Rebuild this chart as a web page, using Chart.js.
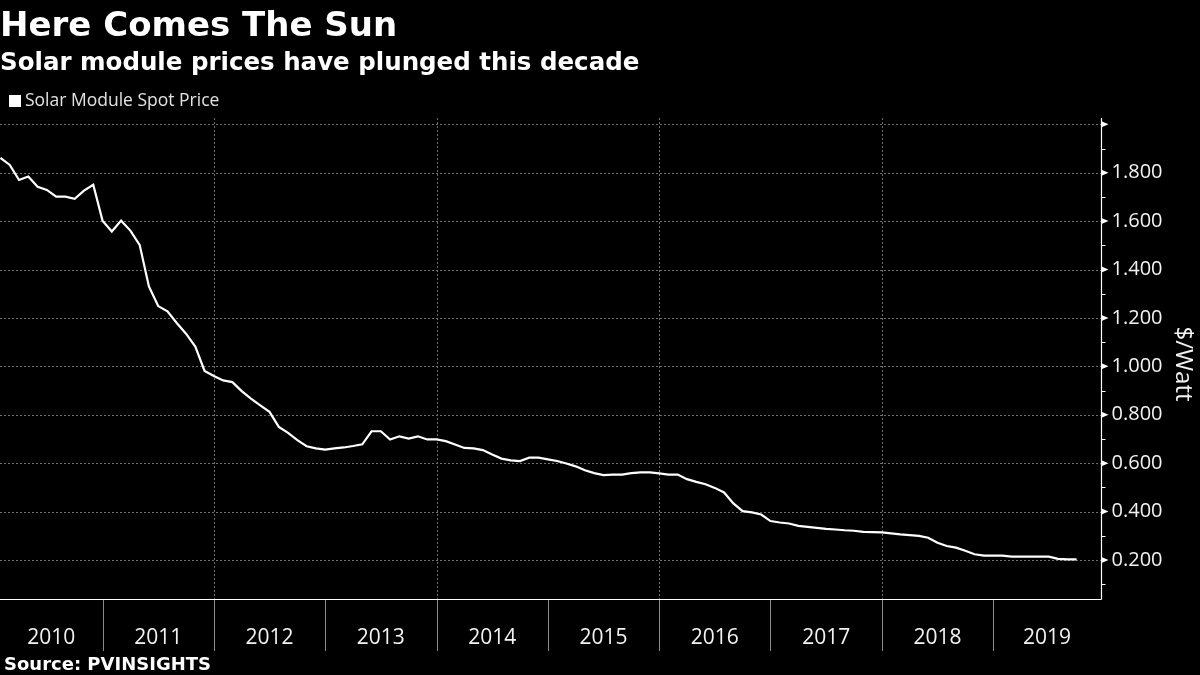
<!DOCTYPE html>
<html><head><meta charset="utf-8">
<script src="https://cdn.jsdelivr.net/npm/chart.js@4.4.1/dist/chart.umd.min.js"></script>
<style>html,body{margin:0;padding:0;background:#000;overflow:hidden}canvas{display:block}</style>
</head><body><canvas id="c" width="1200" height="675"></canvas>
<script>
const titleText = "Here Comes The Sun";
const subtitleText = "Solar module prices have plunged this decade";
const seriesName = "Solar Module Spot Price";
const sourceText = "Source: PVINSIGHTS";
const yAxisTitle = "$/Watt";

const years = ["2010","2011","2012","2013","2014","2015","2016","2017","2018","2019"];
const xGridYears = [2012, 2014, 2016, 2018];
const yTickValues = [0.2, 0.4, 0.6, 0.8, 1.0, 1.2, 1.4, 1.6, 1.8];
const yTickLabels = ["0.200","0.400","0.600","0.800","1.000","1.200","1.400","1.600","1.800"];
const yGridValues = [0.2, 0.4, 0.6, 0.8, 1.0, 1.2, 1.4, 1.6, 1.8, 2.0];
const yMinorTicks = [0.1, 0.3, 0.5, 0.7, 0.9, 1.1, 1.3, 1.5, 1.7, 1.9];

const firstYear = 2010, firstMonth = 1;
// Monthly spot price, $/Watt, Jan 2010 .. Sep 2019
const prices = [
  1.861,1.832,1.770,1.784,1.742,1.729,1.701,1.701,1.692,1.726,1.750,1.602,
  1.557,1.602,1.561,1.502,1.330,1.249,1.227,1.179,1.135,1.082,0.981,0.960,
  0.942,0.935,0.898,0.867,0.839,0.812,0.750,0.725,0.695,0.670,0.661,0.656,
  0.661,0.665,0.671,0.678,0.732,0.732,0.698,0.711,0.702,0.711,0.698,0.698,
  0.691,0.677,0.663,0.661,0.654,0.636,0.619,0.612,0.609,0.623,0.623,0.616,
  0.609,0.599,0.587,0.571,0.559,0.551,0.553,0.553,0.559,0.562,0.562,0.558,
  0.553,0.553,0.534,0.523,0.513,0.498,0.479,0.434,0.402,0.397,0.388,0.361,
  0.355,0.351,0.341,0.337,0.333,0.329,0.326,0.323,0.321,0.316,0.315,0.314,
  0.310,0.306,0.303,0.300,0.292,0.271,0.258,0.251,0.238,0.224,0.218,0.218,
  0.218,0.214,0.214,0.214,0.214,0.214,0.205,0.203,0.203
];

// month labels and their position in decimal years (end of month)
const months = prices.map((_, i) => {
  const m = firstMonth - 1 + i;
  const yy = firstYear + Math.floor(m / 12);
  const mm = (m % 12) + 1;
  return yy + "-" + String(mm).padStart(2, "0");
});
const points = months.map((lbl, i) => {
  const [yy, mm] = lbl.split("-").map(Number);
  return { x: yy + mm / 12, y: prices[i] };
});

const TICK_FONT = '"Open Sans", "Liberation Sans", sans-serif';
const BOLD_FONT = '"DejaVu Sans", "Liberation Sans", sans-serif';

const decor = {
  id: 'decor',
  beforeDraw(chart) {
    const c = chart.ctx;
    c.save(); c.fillStyle = '#000'; c.fillRect(0, 0, chart.width, chart.height); c.restore();
  },
  beforeDatasetsDraw(chart) {
    const { ctx, chartArea: a, scales: { x, y } } = chart;
    ctx.save();
    ctx.strokeStyle = '#6f6f6f'; ctx.lineWidth = 1; ctx.setLineDash([2, 2]);
    yGridValues.forEach(v => {
      const py = Math.round(y.getPixelForValue(v)) + 0.5;
      ctx.beginPath(); ctx.moveTo(a.left, py); ctx.lineTo(a.right, py); ctx.stroke();
    });
    xGridYears.forEach(v => {
      const px = Math.round(x.getPixelForValue(v)) + 0.5;
      ctx.beginPath(); ctx.moveTo(px, a.top); ctx.lineTo(px, a.bottom); ctx.stroke();
    });
    ctx.restore();
  },
  afterDatasetsDraw(chart) {
    const { ctx, chartArea: a, scales: { x, y } } = chart;
    ctx.save();
    ctx.setLineDash([]);
    // legend
    ctx.fillStyle = '#ffffff';
    ctx.fillRect(9, 95, 12, 12);
    ctx.fillStyle = '#e2e2e2';
    ctx.font = '17.5px ' + TICK_FONT;
    ctx.textBaseline = 'middle'; ctx.textAlign = 'left';
    ctx.fillText(seriesName, 25, 101);

    const R = Math.round(a.right) + 0.5;
    const B = Math.round(a.bottom) + 0.5;
    // axes lines
    ctx.strokeStyle = '#ffffff'; ctx.lineWidth = 1.2;
    ctx.beginPath(); ctx.moveTo(R, a.top); ctx.lineTo(R, B); ctx.stroke();
    ctx.beginPath(); ctx.moveTo(a.left, B); ctx.lineTo(R, B); ctx.stroke();
    // y major ticks (triangles) and minor ticks
    ctx.fillStyle = '#ffffff';
    yGridValues.forEach(v => {
      const py = y.getPixelForValue(v);
      ctx.beginPath(); ctx.moveTo(R, py - 3); ctx.lineTo(R + 7, py); ctx.lineTo(R, py + 3); ctx.closePath(); ctx.fill();
    });
    ctx.lineWidth = 1;
    yMinorTicks.forEach(v => {
      const py = Math.round(y.getPixelForValue(v)) + 0.5;
      ctx.beginPath(); ctx.moveTo(R, py); ctx.lineTo(R + 4, py); ctx.stroke();
    });
    // y labels
    ctx.fillStyle = '#f2f2f2';
    ctx.font = '20px ' + TICK_FONT;
    ctx.textAlign = 'left'; ctx.textBaseline = 'middle';
    yTickValues.forEach((v, i) => ctx.fillText(yTickLabels[i], R + 10, y.getPixelForValue(v)));
    // y title
    ctx.save();
    ctx.translate(1183, 364); ctx.rotate(Math.PI / 2);
    ctx.font = '24px ' + TICK_FONT; ctx.textAlign = 'center'; ctx.fillStyle = '#f2f2f2';
    ctx.fillText(yAxisTitle, 0, 0);
    ctx.restore();
    // year separators and labels
    ctx.strokeStyle = '#8a8a8a'; ctx.lineWidth = 1;
    years.forEach((lbl) => {
      const yr = Number(lbl);
      if (yr > x.min && yr < x.max) {
        const px = Math.round(x.getPixelForValue(yr)) + 0.5;
        ctx.beginPath(); ctx.moveTo(px, B + 0.5); ctx.lineTo(px, 651); ctx.stroke();
      }
    });
    ctx.fillStyle = '#f2f2f2'; ctx.font = '21px ' + TICK_FONT; ctx.textAlign = 'center';
    years.forEach(lbl => {
      const yr = Number(lbl);
      const s = x.getPixelForValue(Math.max(yr, x.min));
      const e = x.getPixelForValue(Math.min(yr + 1, x.max));
      ctx.fillText(lbl, (s + e) / 2, 638);
    });
    // source
    ctx.fillStyle = '#ffffff'; ctx.font = 'bold 18px ' + BOLD_FONT;
    ctx.textAlign = 'left'; ctx.textBaseline = 'alphabetic';
    ctx.fillText(sourceText, 4, 670);
    ctx.restore();
  }
};

function draw() {
  new Chart(document.getElementById('c'), {
    type: 'line',
    data: {
      datasets: [{
        label: seriesName,
        data: points,
        borderColor: '#ffffff',
        backgroundColor: '#ffffff',
        borderWidth: 2.2,
        pointRadius: 0,
        tension: 0,
        fill: false
      }]
    },
    options: {
      responsive: false,
      animation: false,
      devicePixelRatio: 1,
      layout: { padding: { left: 0, right: 0, top: 0, bottom: 0 } },
      plugins: {
        legend: { display: false },
        tooltip: { enabled: false },
        title: {
          display: true, text: titleText, align: 'start', color: '#ffffff',
          font: { family: BOLD_FONT, size: 34, weight: 'bold', lineHeight: 1.2 },
          padding: { top: 7, bottom: 0 }
        },
        subtitle: {
          display: true, text: subtitleText, align: 'start', color: '#ffffff',
          font: { family: BOLD_FONT, size: 24.5, weight: 'bold', lineHeight: 1.2 },
          padding: { top: 1, bottom: 39.8 }
        }
      },
      scales: {
        x: {
          type: 'linear', position: 'bottom',
          min: 2010.079, max: 2019.969,
          ticks: { display: false }, grid: { display: false }, border: { display: false },
          afterFit(s) { s.height = 76; }
        },
        y: {
          type: 'linear', position: 'right',
          min: 0.039, max: 2.026,
          ticks: { display: false }, grid: { display: false }, border: { display: false },
          afterFit(s) { s.width = 99; }
        }
      }
    },
    plugins: [decor]
  });
}
Promise.all([
  document.fonts.load('bold 34px "DejaVu Sans"'),
  document.fonts.load('20px "Open Sans"')
]).catch(() => {}).then(draw);
</script>
</body></html>
